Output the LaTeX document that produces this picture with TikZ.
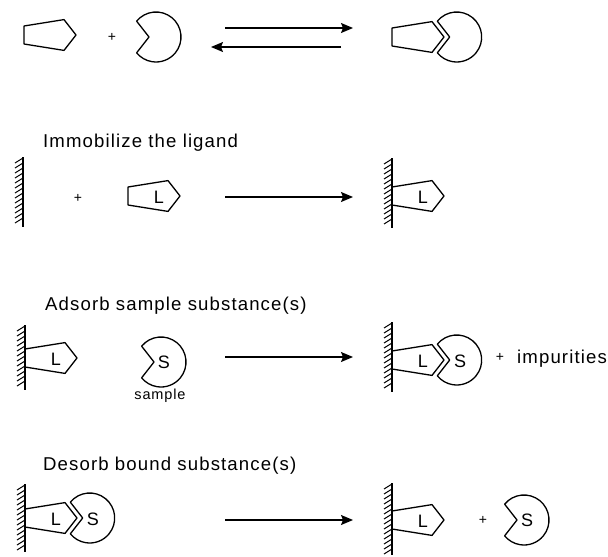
\documentclass[tikz,border=0pt]{standalone}
\usepackage{fontspec}
\setmainfont{Liberation Sans}
\usetikzlibrary{arrows.meta}
\newcommand\wallat[3]{%
  \draw[shp] (#1,#2) -- (#1,#3);
  \pgfmathtruncatemacro\nhatch{(#3-#2-6)/5}
  \foreach \k in {0,...,\nhatch}{\draw[line width=1pt] (#1,#2+1+5*\k) -- ++(-8,5);}
}
\begin{document}
\begin{tikzpicture}[x=1pt,y=-1pt,
  shp/.style={line width=1.3pt, line join=round},
  arr/.style={line width=1.2pt, -{Stealth[length=12pt,width=10pt,inset=2pt]}},
  hdr/.style={font=\fontsize{18.6}{22}\selectfont\addfontfeature{LetterSpace=6}, anchor=base west, inner sep=0pt},
  small/.style={font=\fontsize{14.5}{17}\selectfont\addfontfeature{LetterSpace=6}, inner sep=0pt},
  lbl/.style={font=\fontsize{18}{20}\selectfont, inner sep=0pt},
  plus/.style={font=\fontsize{14}{16}\selectfont, inner sep=0pt},
  pics/lig/.style={code={\draw[shp] (0,-9) -- (40,-15.4) -- (52,0) -- (40,15.4) -- (0,9) -- cycle;}},
  pics/rec/.style={code={\draw[shp] (-7,0) -- (140.75:25pt) arc[start angle=140.75,end angle=-140.75,radius=25pt] -- cycle;}},
]
\fill[white] (0,0) rectangle (608,557);
\useasboundingbox (0,0) rectangle (608,557);

% Row 1
\pic (r1lig) at (24,35) {lig};
\node[plus] (p1) at (112,37) {+};
\pic (r1rec) at (156,37) {rec};
\coordinate (f1s) at (225,28); \coordinate (f1e) at (353,28);
\draw[arr] (f1s) -- (f1e);
\coordinate (b1s) at (341,47); \coordinate (b1e) at (211,47);
\draw[arr] (b1s) -- (b1e);
\pic (r1clig) at (392,37) {lig};
\pic (r1crec) at (456.7,37) {rec};

% Row 2
\node[hdr] (h2) at (43,147) {Immobilize the ligand};
\wallat{23}{157}{227}
\node[plus] (p2) at (78,198) {+};
\pic (r2lig) at (128,196) {lig};
\node[lbl] (l2a) at (159,197) {L};
\coordinate (a2s) at (225,197); \coordinate (a2e) at (353,197);
\draw[arr] (a2s) -- (a2e);
\wallat{392}{158}{228}
\pic (r2clig) at (392,196) {lig};
\node[lbl] (l2b) at (423,197) {L};

% Row 3
\node[hdr] (h3) at (45,310) {Adsorb sample substance(s)};
\wallat{25}{325}{390}
\pic (r3lig) at (25,358) {lig};
\node[lbl] (l3a) at (56,359) {L};
\pic (r3rec) at (161,362) {rec};
\node[lbl] (s3a) at (164,362) {S};
\node[small] (smp) at (160,396) {sample};
\coordinate (a3s) at (225,357); \coordinate (a3e) at (353,357);
\draw[arr] (a3s) -- (a3e);
\wallat{392}{322}{392}
\pic (r3clig) at (392,360) {lig};
\node[lbl] (l3b) at (423,361) {L};
\pic (r3crec) at (456.7,360) {rec};
\node[lbl] (s3b) at (460,361) {S};
\node[plus] (p3) at (500,357) {+};
\node[hdr] (imp) at (517,363) {impurities};

% Row 4
\node[hdr] (h4) at (43,470) {Desorb bound substance(s)};
\wallat{25}{484}{552}
\pic (r4clig) at (25,518) {lig};
\node[lbl] (l4a) at (56,519) {L};
\pic (r4crec) at (89.7,518) {rec};
\node[lbl] (s4a) at (93,519) {S};
\coordinate (a4s) at (225,520); \coordinate (a4e) at (353,520);
\draw[arr] (a4s) -- (a4e);
\wallat{392}{483}{555}
\pic (r4lig) at (392,520) {lig};
\node[lbl] (l4b) at (423,521) {L};
\node[plus] (p4) at (483,520) {+};
\pic (r4rec) at (524,520) {rec};
\node[lbl] (s4b) at (527,520) {S};
\end{tikzpicture}
\end{document}
